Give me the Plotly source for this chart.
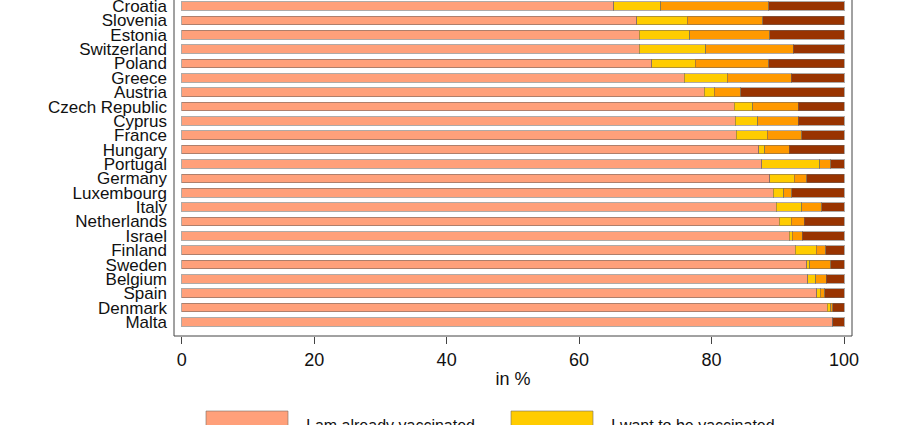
import plotly.graph_objects as go

# countries, top to bottom as in the chart
countries = ["Croatia", "Slovenia", "Estonia", "Switzerland", "Poland", "Greece",
             "Austria", "Czech Republic", "Cyprus", "France", "Hungary", "Portugal",
             "Germany", "Luxembourg", "Italy", "Netherlands", "Israel", "Finland",
             "Sweden", "Belgium", "Spain", "Denmark", "Malta"]

# shares in %
already = [65.2, 68.7, 69.1, 69.1, 71.0, 75.9, 78.9, 83.4, 83.6, 83.7, 87.1, 87.6,
           88.8, 89.3, 89.8, 90.2, 91.7, 92.6, 94.4, 94.5, 95.9, 97.5, 98.3]
want = [7.1, 7.6, 7.6, 10.0, 6.5, 6.5, 1.5, 2.8, 3.4, 4.7, 0.9, 8.7,
        3.7, 1.6, 3.8, 1.8, 0.5, 3.2, 0.4, 1.2, 0.5, 0.5, 0.0]
unsure = [16.3, 11.4, 12.1, 13.2, 11.1, 9.6, 4.0, 6.9, 6.1, 5.2, 3.7, 1.7,
          1.9, 1.2, 3.0, 2.0, 1.5, 1.4, 3.2, 1.6, 0.7, 0.3, 0.0]
not_want = [11.4, 12.3, 11.2, 7.7, 11.4, 8.0, 15.6, 6.9, 6.9, 6.4, 8.3, 2.0,
            5.6, 7.9, 3.4, 6.0, 6.3, 2.8, 2.0, 2.7, 2.9, 1.7, 1.7]

series_names = ["I am already vaccinated", "I want to be vaccinated",
                "I am not sure yet", "I do not want to be vaccinated"]
colors = ["#FFA07A", "#FFCC00", "#FF9900", "#993300"]
x_ticks = [0, 20, 40, 60, 80, 100]

W, H = 920, 425
ML, MR, MT, MB = 174, 68, 0, 89
PW, PH = W - ML - MR, H - MT - MB

font = "Liberation Sans, Arial, sans-serif"

fig = go.Figure()
for name, vals, col in zip(series_names, [already, want, unsure, not_want], colors):
    fig.add_trace(go.Bar(
        y=countries, x=vals, name=name, orientation="h",
        marker=dict(color=col, line=dict(color="rgba(110,100,95,0.55)", width=1)),
        width=0.6, showlegend=False,
    ))


def px_x(x):
    return (x - ML) / PW


def px_y(y):
    return (H - MB - y) / PH


# box (top edge lies outside the picture)
fig.add_shape(type="rect", xref="paper", yref="paper",
              x0=0, x1=1, y0=0, y1=1.05,
              line=dict(color="#444444", width=1))

# hand-drawn legend, two columns (second row falls below the picture)
leg_x = [206, 511]
leg_y = [411, 446]
for i, (name, col) in enumerate(zip(series_names, colors)):
    cx = leg_x[i % 2]
    cy = leg_y[i // 2]
    fig.add_shape(type="rect", xref="paper", yref="paper",
                  x0=px_x(cx), x1=px_x(cx + 82), y0=px_y(cy), y1=px_y(cy + 22),
                  fillcolor=col, line=dict(color="rgba(120,110,100,0.6)", width=1))
    fig.add_annotation(xref="paper", yref="paper", x=px_x(cx + 98), y=px_y(cy + 4),
                       text=name, showarrow=False, xanchor="left", yanchor="top",
                       font=dict(family=font, size=16, color="#111111"))

fig.update_layout(
    barmode="stack",
    width=W, height=H,
    margin=dict(l=ML, r=MR, t=MT, b=MB, autoexpand=False),
    plot_bgcolor="white", paper_bgcolor="white",
    font=dict(family=font, color="#111111"),
)
fig.update_xaxes(
    range=[-1.16, 101.2], tickvals=x_ticks, ticks="outside", ticklen=7,
    tickcolor="#444444", tickfont=dict(size=18), showgrid=False, zeroline=False,
    title=dict(text="in %", font=dict(size=18), standoff=3), automargin=False,
)
fig.update_yaxes(
    categoryorder="array", categoryarray=countries[::-1],
    tickmode="array", tickvals=countries, ticktext=countries,
    range=[-0.975, 22.42], showgrid=False, zeroline=False, ticks="",
    tickfont=dict(size=17), ticklabelstandoff=6, automargin=False,
)

# drop the browser's default body margin so the figure sits at the page corner
fig.write_html("out.html", config={"displayModeBar": False},
               post_script="document.body.style.margin='0';document.body.style.overflow='hidden';")
